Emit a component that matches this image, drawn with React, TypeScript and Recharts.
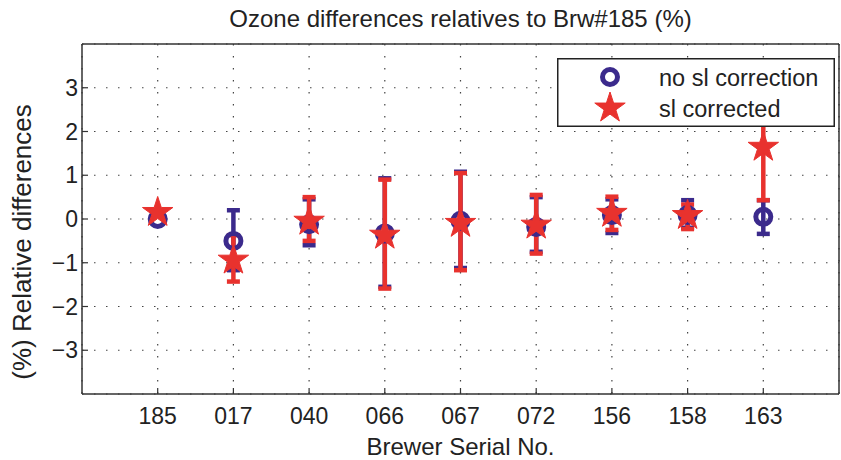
import React from 'react'
import { ComposedChart, Scatter, ErrorBar, XAxis, YAxis, CartesianGrid, Legend } from 'recharts'

// Brewer serial numbers, in plot order
const serials = ['185', '017', '040', '066', '067', '072', '156', '158', '163']

// no sl correction (%)
const noSl = [0.0, -0.5, -0.12, -0.33, -0.04, -0.18, 0.09, 0.09, 0.05]
const noSlLow = [null, -1.17, -0.6, -1.55, -1.12, -0.75, -0.32, -0.2, -0.34]
const noSlHigh = [null, 0.2, 0.45, 0.93, 1.08, 0.5, 0.45, 0.43, 0.43]

// sl corrected (%)
const sl = [0.15, -0.94, -0.05, -0.37, -0.1, -0.14, 0.13, 0.08, 1.64]
const slLow = [null, -1.43, -0.5, -1.59, -1.17, -0.79, -0.25, -0.23, 0.43]
const slHigh = [null, -0.37, 0.5, 0.9, 1.05, 0.55, 0.51, 0.33, 2.85]

const yTicks = [-3, -2, -1, 0, 1, 2, 3]
const seriesNames = ['no sl correction', 'sl corrected']

const BLUE = '#3b2a8c'
const RED = '#e8322e'
const INK = '#222'
const FONT = '"Liberation Sans", Arial, Helvetica, sans-serif'

const toRows = (vals: number[], lo: (number | null)[], hi: (number | null)[]) =>
  vals.map((v, i) => ({
    x: i + 1,
    y: v,
    err: lo[i] == null || hi[i] == null ? null : [v - (lo[i] as number), (hi[i] as number) - v],
  }))

const blueRows = toRows(noSl, noSlLow, noSlHigh)
const redRows = toRows(sl, slLow, slHigh)
const xTicks = serials.map((_, i) => i + 1)

const Ring = ({ cx, cy }: { cx?: number; cy?: number }) => (
  <circle cx={cx} cy={cy} r={7.5} fill="none" stroke={BLUE} strokeWidth={5} />
)

const Star = ({ cx = 0, cy = 0 }: { cx?: number; cy?: number }) => {
  const pts: string[] = []
  for (let i = 0; i < 10; i++) {
    const r = i % 2 === 0 ? 16 : 16 * 0.382
    const a = -Math.PI / 2 + (i * Math.PI) / 5
    pts.push(`${cx + r * Math.cos(a)},${cy + r * Math.sin(a)}`)
  }
  return <polygon points={pts.join(' ')} fill={RED} stroke={RED} strokeWidth={1} />
}

const LegendBox = () => (
  <svg width={278} height={69} style={{ display: 'block' }}>
    <rect x={0.75} y={0.75} width={276.5} height={67.5} fill="#fff" stroke={INK} strokeWidth={1.5} />
    <Ring cx={53} cy={19} />
    <Star cx={53} cy={50} />
    <text x={102} y={28} fontSize={23.5} fontFamily={FONT} fill={INK}>{seriesNames[0]}</text>
    <text x={102} y={59} fontSize={23.5} fontFamily={FONT} fill={INK}>{seriesNames[1]}</text>
  </svg>
)

const YLabel = ({ viewBox }: { viewBox?: { x: number; y: number; width: number; height: number } }) => {
  if (!viewBox) return null
  const x = viewBox.x + 31
  const y = viewBox.y + viewBox.height / 2 + 23
  return (
    <text x={x} y={y} transform={`rotate(-90, ${x}, ${y})`} textAnchor="middle" fontSize={26} fontFamily={FONT} fill={INK}>
      (%) Relative differences
    </text>
  )
}

const fmtY = (v: number) => (v < 0 ? '\u2212' + Math.abs(v) : String(v))

export default function App() {
  const axisLine = { stroke: '#333', strokeWidth: 1.5 }
  const tickLine = { stroke: '#333', strokeWidth: 1.2 }
  const tickStyle = { fontSize: 23, fontFamily: FONT, fill: INK }

  return (
    <div style={{ position: 'absolute', left: 0, top: 0, background: '#fff' }}>
      <ComposedChart width={841} height={460} margin={{ top: 43, right: 1, bottom: 0, left: 0 }}>
        <CartesianGrid stroke="#444" strokeWidth={1.2} strokeDasharray="1.5 10.5" />
        <XAxis
          dataKey="x"
          type="number"
          domain={[0, 10]}
          ticks={xTicks}
          interval={0}
          tickFormatter={(v: number) => serials[v - 1]}
          height={66}
          tickSize={-6}
          tickMargin={20}
          axisLine={axisLine}
          tickLine={tickLine}
          tick={tickStyle}
          label={{ value: 'Brewer Serial No.', position: 'insideBottom', offset: 5, fontSize: 24, fontFamily: FONT, fill: INK }}
        />
        <XAxis
          xAxisId="top"
          orientation="top"
          type="number"
          domain={[0, 10]}
          ticks={xTicks}
          interval={0}
          height={1}
          tickSize={-6}
          tick={false}
          axisLine={axisLine}
          tickLine={tickLine}
          label={{ value: 'Ozone differences relatives to Brw#185 (%)', position: 'top', offset: 16, fontSize: 24, fontFamily: FONT, fill: INK }}
        />
        <YAxis
          type="number"
          domain={[-4, 4]}
          ticks={yTicks}
          interval={0}
          width={82}
          tickSize={-6}
          tickMargin={10}
          tickFormatter={fmtY}
          axisLine={axisLine}
          tickLine={tickLine}
          tick={tickStyle}
          label={<YLabel />}
        />
        <YAxis
          yAxisId="right"
          orientation="right"
          type="number"
          domain={[-4, 4]}
          ticks={yTicks}
          interval={0}
          width={1}
          tickSize={-6}
          tick={false}
          axisLine={axisLine}
          tickLine={tickLine}
        />
        <Scatter name={seriesNames[0]} data={blueRows} dataKey="y" fill={BLUE} shape={(p: any) => <Ring cx={p.cx} cy={p.cy} />} isAnimationActive={false}>
          <ErrorBar dataKey="err" direction="y" width={6.5} strokeWidth={4.5} stroke={BLUE} isAnimationActive={false} />
        </Scatter>
        <Scatter name={seriesNames[1]} data={redRows} dataKey="y" fill={RED} shape={(p: any) => <Star cx={p.cx} cy={p.cy} />} isAnimationActive={false}>
          <ErrorBar dataKey="err" direction="y" width={6.5} strokeWidth={4.5} stroke={RED} isAnimationActive={false} />
        </Scatter>
        <Legend
          layout="vertical"
          align="center"
          verticalAlign="middle"
          wrapperStyle={{ left: 557, top: 58, width: 278, height: 69 }}
          content={<LegendBox />}
        />
      </ComposedChart>
    </div>
  )
}
